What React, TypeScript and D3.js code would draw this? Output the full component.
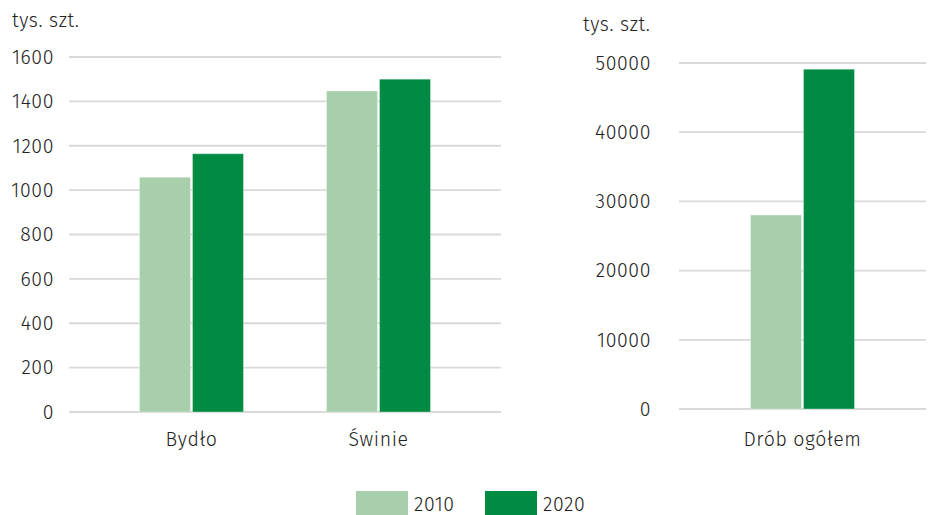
import React from "react";
import * as d3 from "d3";

const leftCategories = ["Bydło", "Świnie"];
const leftValues2010 = [1058, 1447];
const leftValues2020 = [1164, 1500];
const leftTicks = [0, 200, 400, 600, 800, 1000, 1200, 1400, 1600];

const rightCategories = ["Drób ogółem"];
const rightValues2010 = [28030];
const rightValues2020 = [49100];
const rightTicks = [0, 10000, 20000, 30000, 40000, 50000];

const seriesNames = ["2010", "2020"];
const unitLabel = "tys. szt.";

const COLORS = ["#a7cfab", "#018a42"];
const GRID = "#d9d9d9";
const TEXT = "#222222";
const FONT = "'Fira Sans', 'Noto Sans', 'Open Sans', sans-serif";
const FS = 19.5;
const LS = 0.6;

function Panel({ categories, v2010, v2020, ticks, yMax, x0, x1, yTop, yBottom, labelX, unitX, unitY, pointPad }: any) {
  const y = d3.scaleLinear().domain([0, yMax]).range([yBottom, yTop]);
  const x = d3.scalePoint<string>().domain(categories).range([x0, x1]).padding(pointPad);
  const barW = 51;
  const gap = 2;
  const series = [v2010, v2020];
  const tp = { fontSize: FS, fill: TEXT, fontFamily: FONT, fontWeight: 300, letterSpacing: LS };
  return (
    <g>
      <text x={unitX} y={unitY} {...tp}>{unitLabel}</text>
      {ticks.map((t: number) => (
        <g key={t}>
          <line x1={x0} x2={x1} y1={y(t)} y2={y(t)} stroke={GRID} strokeWidth={1.8} />
          <text x={labelX} y={y(t)} dy="0.35em" textAnchor="end" {...tp}>{t}</text>
        </g>
      ))}
      {categories.map((c: string, i: number) => {
        const cx = x(c) as number;
        return (
          <g key={c}>
            {series.map((vals: number[], s: number) => {
              const bx = s === 0 ? cx - gap / 2 - barW : cx + gap / 2;
              return (
                <rect key={s} x={bx} y={y(vals[i])} width={barW} height={y(0) - y(vals[i])}
                  fill={COLORS[s]} stroke="#ffffff" strokeOpacity={0.35} strokeWidth={1} />
              );
            })}
            <text x={cx} y={446} textAnchor="middle" {...tp}>{c}</text>
          </g>
        );
      })}
    </g>
  );
}

export default function App() {
  const legendX = [356, 485];
  const tp = { fontSize: FS, fill: TEXT, fontFamily: FONT, fontWeight: 300, letterSpacing: LS };
  return (
    <svg width={928} height={515} style={{ position: "absolute", left: 0, top: 0, background: "#fff" }}>
      <Panel categories={leftCategories} v2010={leftValues2010} v2020={leftValues2020} ticks={leftTicks}
        yMax={1600} x0={69} x1={501} yTop={57} yBottom={412} labelX={54} unitX={12} unitY={27} pointPad={0.655} />
      <Panel categories={rightCategories} v2010={rightValues2010} v2020={rightValues2020} ticks={rightTicks}
        yMax={50000} x0={679} x1={926} yTop={63} yBottom={409} labelX={651} unitX={583} unitY={31} pointPad={0.5} />
      {seriesNames.map((n, i) => (
        <g key={n}>
          <rect x={legendX[i]} y={491} width={52} height={26} fill={COLORS[i]} />
          <text x={legendX[i] + 58} y={511} {...tp}>{n}</text>
        </g>
      ))}
    </svg>
  );
}
